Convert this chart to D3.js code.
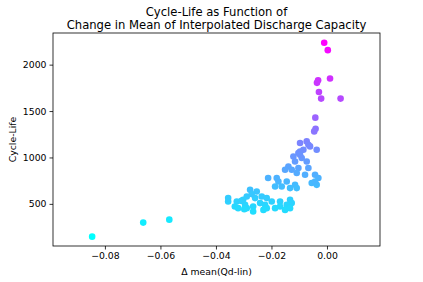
<!DOCTYPE html>
<html>
<head>
<meta charset="utf-8">
<script src="https://cdn.jsdelivr.net/npm/d3@7"></script>
<style>
  body { margin: 0; background: #fff; }
  text { font-family: "DejaVu Sans", sans-serif; fill: #000; }
</style>
</head>
<body>
<div id="chart"></div>
<script>
// delta mean(Qd-lin) values
const deltaMean = [
  -0.0846, -0.0662, -0.0568,
  -0.0010, 0.0003, 0.0011, -0.0032, -0.0036, -0.0029, -0.0021, 0.0049,
  -0.0042, -0.0041, -0.0046,
  -0.0073, -0.0097, -0.0067, -0.0037, -0.0085, -0.0103, -0.0091, -0.0115,
  -0.0073, -0.0139, -0.0151, -0.0103, -0.0067, -0.0109, -0.0079, -0.0043,
  -0.0031, -0.0055, -0.0037, -0.0212, -0.0175, -0.0163, -0.0133, -0.0115,
  -0.0127, -0.0181, -0.0145, -0.0187, -0.0109, -0.0277, -0.0253, -0.0289,
  -0.0302, -0.0259, -0.0235, -0.0217, -0.0199, -0.0169, -0.0133, -0.0127,
  -0.0145, -0.0325, -0.0332, -0.0356, -0.0356, -0.0320, -0.0289, -0.0266,
  -0.0295, -0.0241, -0.0223, -0.0169, -0.0187, -0.0151, -0.0266, -0.0217,
  -0.0229, -0.0133, -0.0298, -0.0308, -0.0271, -0.0043, -0.0061, -0.0097,
  -0.0097, -0.0121
];

// cycle life values
const cycleLife = [
  147, 298, 330,
  2236, 2156, 1850, 1832, 1804, 1706, 1634, 1634,
  1429, 1310, 1281,
  1173, 1156, 1137, 1083, 1083, 1048, 994, 957,
  957, 903, 867, 886, 886, 832, 813, 813,
  778, 724, 705, 778, 741, 687, 670, 705,
  867, 778, 741, 687, 670, 651, 633, 579,
  543, 562, 579, 562, 525, 525, 543, 508,
  489, 525, 471, 525, 562, 454, 454, 471,
  489, 508, 489, 471, 454, 435, 417, 454,
  435, 454, 443, 532, 605, 741, 1119, 1065,
  1029, 1011
];

const xTicks = [-0.08, -0.06, -0.04, -0.02, 0.00];
const yTicks = [500, 1000, 1500, 2000];

const width = 423, height = 282;
const margin = { top: 33, right: 43, bottom: 36, left: 53 };
const midX = (margin.left + width - margin.right) / 2;

const svg = d3.select("#chart")
  .append("svg")
  .attr("width", width)
  .attr("height", height);

const x = d3.scaleLinear()
  .domain([-0.0987, 0.0191])
  .range([margin.left, width - margin.right]);

const y = d3.scaleLinear()
  .domain([46, 2341])
  .range([height - margin.bottom, margin.top]);

// matplotlib "cool" colormap
const color = d3.scaleLinear()
  .domain([d3.min(cycleLife), d3.max(cycleLife)])
  .range(["#00ffff", "#ff00ff"]);

const points = deltaMean.map((d, i) => ({ x: d, y: cycleLife[i] }));

svg.selectAll(".dot")
  .data(points)
  .enter()
  .append("circle")
  .attr("class", "dot")
  .attr("cx", d => x(d.x))
  .attr("cy", d => y(d.y))
  .attr("r", 3.3)
  .attr("fill", d => color(d.y));

const fmt = d => (d < 0 ? "\u2212" : "") + Math.abs(d).toFixed(2);

const xAxis = svg.append("g")
  .attr("transform", `translate(0,${height - margin.bottom})`)
  .call(d3.axisBottom(x).tickValues(xTicks).tickFormat(fmt).tickSize(3.5).tickPadding(3));

const yAxis = svg.append("g")
  .attr("transform", `translate(${margin.left},0)`)
  .call(d3.axisLeft(y).tickValues(yTicks).tickFormat(d3.format("d")).tickSize(3.5).tickPadding(3));

[xAxis, yAxis].forEach(a => {
  a.select(".domain").remove();
  a.selectAll("line").attr("stroke", "#000").attr("stroke-width", 0.8);
  a.selectAll("text")
    .style("font-family", "DejaVu Sans")
    .style("font-size", "9.3px")
    .attr("fill", "#000");
});

// frame
svg.append("rect")
  .attr("x", margin.left)
  .attr("y", margin.top)
  .attr("width", width - margin.left - margin.right)
  .attr("height", height - margin.top - margin.bottom)
  .attr("fill", "none")
  .attr("stroke", "#000")
  .attr("stroke-width", 0.8);

// labels
svg.append("text")
  .attr("x", midX)
  .attr("y", 275)
  .attr("text-anchor", "middle")
  .style("font-size", "9.3px")
  .text("\u0394 mean(Qd-lin)");

svg.append("text")
  .attr("transform", `translate(15.5,${(margin.top + height - margin.bottom) / 2}) rotate(-90)`)
  .attr("text-anchor", "middle")
  .style("font-size", "9.3px")
  .text("Cycle-Life");

const title = svg.append("text")
  .attr("text-anchor", "middle")
  .style("font-size", "11.6px");
title.append("tspan").attr("x", midX).attr("y", 16).text("Cycle-Life as Function of");
title.append("tspan").attr("x", midX).attr("y", 28.5).text("Change in Mean of Interpolated Discharge Capacity");
</script>
</body>
</html>
